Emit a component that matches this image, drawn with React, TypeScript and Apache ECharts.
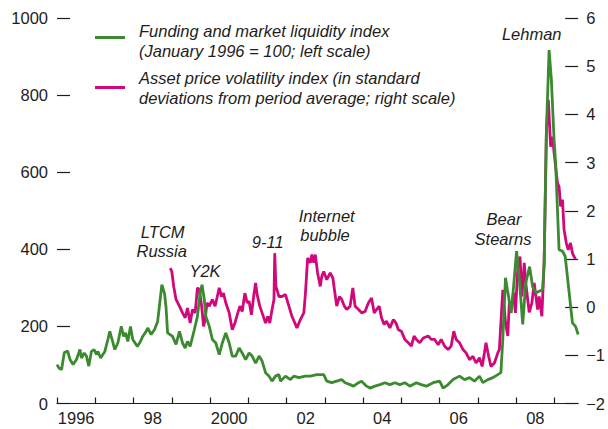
import React, { useEffect, useRef } from "react";
import * as echarts from "echarts";

// Funding and market liquidity index (Jan 1996 = 100; left scale)
const greenDates = [
  1996.0, 1996.05, 1996.12, 1996.19, 1996.28, 1996.34, 1996.42, 1996.51, 1996.6, 1996.64, 1996.71, 1996.77, 1996.83, 1996.9, 1996.97,
  1997.03, 1997.07, 1997.14, 1997.25, 1997.33, 1997.38, 1997.44, 1997.51, 1997.59, 1997.68, 1997.74, 1997.79, 1997.85, 1997.92, 1997.98,
  1998.1, 1998.18, 1998.24, 1998.33, 1998.37, 1998.46, 1998.55, 1998.63, 1998.74, 1998.81, 1998.85, 1998.89,
  1999.02, 1999.11, 1999.2, 1999.28, 1999.35, 1999.41, 1999.48, 1999.59, 1999.67, 1999.74, 1999.79, 1999.85, 1999.89, 1999.98,
  2000.06, 2000.15, 2000.24, 2000.32, 2000.41, 2000.5, 2000.58, 2000.67, 2000.76, 2000.84, 2000.93,
  2001.02, 2001.1, 2001.19, 2001.28, 2001.36, 2001.45, 2001.54, 2001.62, 2001.71, 2001.8, 2001.84, 2001.97,
  2002.1, 2002.19, 2002.32, 2002.49, 2002.62, 2002.79, 2002.97,
  2003.05, 2003.18, 2003.31, 2003.44, 2003.53, 2003.66, 2003.75, 2003.88, 2003.96,
  2004.09, 2004.18, 2004.31, 2004.44, 2004.57, 2004.7, 2004.83, 2004.96,
  2005.09, 2005.22, 2005.39, 2005.52, 2005.65, 2005.83,
  2006.0, 2006.09, 2006.22, 2006.35, 2006.52, 2006.65, 2006.78, 2006.91,
  2007.04, 2007.13, 2007.26, 2007.39, 2007.52, 2007.6, 2007.65, 2007.72, 2007.77, 2007.87, 2007.91,
  2008.01, 2008.09, 2008.17, 2008.25, 2008.35, 2008.43, 2008.51, 2008.69, 2008.73, 2008.79, 2008.86, 2008.92, 2008.99,
  2009.03, 2009.12, 2009.21, 2009.28, 2009.47, 2009.55, 2009.62,
];
const greenValues = [
  101, 92, 88, 132, 136, 114, 101, 114, 140, 118, 131, 123, 97, 135, 140,
  127, 135, 118, 135, 166, 187, 166, 140, 157, 200, 174, 183, 161, 200, 166,
  148, 161, 174, 187, 196, 179, 192, 213, 308, 285, 249, 183,
  174, 153, 187, 157, 144, 161, 148, 192, 226, 287, 308, 269, 226, 200,
  166, 157, 127, 157, 183, 157, 123, 123, 144, 131, 114,
  131, 123, 105, 123, 110, 80, 71, 58, 71, 75, 58, 71,
  62, 71, 67, 71, 71, 75, 75,
  58, 54, 58, 62, 54, 49, 45, 54, 58,
  45, 40, 45, 49, 54, 49, 54, 49,
  54, 45, 54, 49, 45, 54,
  58, 40, 49, 62, 71, 62, 67, 58,
  71, 54, 62, 67, 75, 80, 166, 326, 295, 235, 278,
  395, 313, 205, 313, 355, 303, 287, 295, 364, 710, 917, 839, 684,
  624, 399, 395, 382, 209, 200, 179,
];

// Asset price volatility index (standard deviations; right scale)
const pinkDates = [
  1998.96, 1999.0, 1999.05, 1999.11, 1999.2, 1999.28, 1999.35, 1999.41, 1999.48, 1999.54, 1999.61, 1999.67, 1999.72, 1999.78, 1999.83, 1999.87, 1999.92, 1999.98,
  2000.06, 2000.13, 2000.18, 2000.24, 2000.3, 2000.35, 2000.41, 2000.5, 2000.58, 2000.65, 2000.71, 2000.78, 2000.84, 2000.91, 2000.97,
  2001.02, 2001.08, 2001.15, 2001.19, 2001.23, 2001.3, 2001.36, 2001.45, 2001.51, 2001.56, 2001.62, 2001.67, 2001.69, 2001.72, 2001.75, 2001.8, 2001.88, 2001.97,
  2002.06, 2002.14, 2002.27, 2002.36, 2002.45, 2002.49, 2002.55, 2002.62, 2002.66, 2002.71, 2002.75, 2002.81, 2002.88, 2002.92, 2002.97,
  2003.05, 2003.14, 2003.21, 2003.25, 2003.31, 2003.38, 2003.44, 2003.51, 2003.57, 2003.66, 2003.73, 2003.79, 2003.88, 2003.96,
  2004.05, 2004.14, 2004.22, 2004.29, 2004.35, 2004.42, 2004.48, 2004.55, 2004.61, 2004.7, 2004.79, 2004.86, 2004.92,
  2005.0, 2005.09, 2005.18, 2005.26, 2005.33, 2005.39, 2005.48, 2005.57, 2005.7, 2005.78, 2005.87, 2005.96,
  2006.04, 2006.13, 2006.22, 2006.3, 2006.37, 2006.43, 2006.52, 2006.61, 2006.69, 2006.78, 2006.87, 2006.95,
  2007.04, 2007.11, 2007.17, 2007.21, 2007.28, 2007.34, 2007.43, 2007.52, 2007.56, 2007.6, 2007.65, 2007.72, 2007.78, 2007.82, 2007.86, 2007.93, 2007.98,
  2008.04, 2008.1, 2008.15, 2008.21, 2008.25, 2008.34, 2008.41, 2008.47, 2008.56, 2008.6, 2008.67, 2008.73, 2008.79, 2008.84, 2008.9, 2008.95, 2008.99,
  2009.08, 2009.12, 2009.16, 2009.21, 2009.25, 2009.31, 2009.36, 2009.42, 2009.47, 2009.51, 2009.55,
];
const pinkValues = [
  0.81, 0.74, 0.43, 0.16, 0.02, -0.12, -0.22, -0.02, -0.33, -0.05, -0.12, 0.4, 0.36, 0.02, -0.4, -0.26, 0.09, 0.02,
  0.16, 0.02, 0.19, 0.4, 0.22, 0.29, 0.09, -0.12, -0.47, -0.33, -0.16, 0.02, -0.09, 0.29, 0.09,
  0.12, -0.16, 0.29, 0.5, 0.26, 0.02, -0.12, -0.33, -0.19, -0.33, -0.05, 0.16, 1.12, 0.43, 0.36, 0.22, 0.22, 0.26,
  0.02, -0.19, -0.43, -0.26, -0.12, 0.26, 1.02, 0.92, 1.09, 0.92, 1.09, 0.71, 0.43, 0.64, 0.74,
  0.57, 0.71, 0.6, 0.36, 0.02, 0.22, 0.16, 0.02, -0.05, 0.02, 0.4, 0.02, -0.05, -0.12,
  -0.09, 0.09, 0.19, -0.12, -0.05, 0.02, -0.22, -0.36, -0.29, -0.43, -0.26, -0.33, -0.47,
  -0.5, -0.67, -0.74, -0.81, -0.6, -0.67, -0.74, -0.64, -0.6, -0.67, -0.67, -0.78,
  -0.67, -0.81, -0.88, -0.81, -0.5, -0.67, -0.74, -0.88, -0.95, -1.09, -1.02, -1.16,
  -1.05, -1.23, -0.95, -0.74, -1.02, -1.23, -1.16, -0.95, -0.88, -0.33, 0.36, -0.32, -0.6, 0.09, -0.05, 0.3, -0.12,
  0.78, 1.05, 0.22, 0.92, 0.5, -0.11, 0.09, 0.5, -0.05, 0.22, -0.19, 0.92, 3.68, 4.3, 3.33, 3.54, 3.2,
  2.57, 2.5, 2.09, 2.23, 1.61, 1.33, 1.19, 1.33, 1.12, 1.05, 1.0,
];

const yearTicks = [1996, 1997, 1998, 1999, 2000, 2001, 2002, 2003, 2004, 2005, 2006, 2007, 2008, 2009];
const yearLabelPositions = [1996.5, 1998.5, 2000.5, 2002.5, 2004.5, 2006.5, 2008.5];

const legendLabels = [
  ["Funding and market liquidity index", "(January 1996 = 100; left scale)"],
  ["Asset price volatility index (in standard", "deviations from period average; right scale)"],
];
const eventLabels = ["LTCM", "Russia", "Y2K", "9-11", "Internet", "bubble", "Bear", "Stearns", "Lehman"];

const GREEN = "#3c8a30";
const PINK = "#d0087a";
const INK = "#1d1d1b";
const FONT = '"Liberation Sans", Arial, sans-serif';

export default function App() {
  const ref = useRef<HTMLDivElement>(null);
  useEffect(() => {
    if (!ref.current) return;
    const chart = echarts.init(ref.current, null, { renderer: "svg" });
    const eventPos = [
      [162.7, 232],
      [161.7, 251],
      [205, 271],
      [267.7, 242],
      [326.7, 216],
      [325, 235],
      [504, 219],
      [503, 239],
      [531.7, 34],
    ];
    const graphic: any[] = [];
    legendLabels.forEach((lines, i) => {
      const cy = i === 0 ? 37.5 : 87.5;
      graphic.push({
        type: "line",
        shape: { x1: 95, y1: cy, x2: 125, y2: cy },
        style: { stroke: i === 0 ? GREEN : PINK, lineWidth: 3 },
      });
      lines.forEach((t, j) => {
        graphic.push({
          type: "text",
          x: 139,
          y: (i === 0 ? 30.5 : 78) + j * 20,
          style: { text: t, fill: INK, font: `italic 16.5px ${FONT}`, align: "left", verticalAlign: "middle" },
        });
      });
    });
    eventLabels.forEach((t, i) => {
      graphic.push({
        type: "text",
        x: eventPos[i][0],
        y: eventPos[i][1],
        style: { text: t, fill: INK, font: `italic 16.5px ${FONT}`, align: "center", verticalAlign: "middle" },
      });
    });

    const axisLabelStyle = { color: INK, fontSize: 16.5, fontFamily: FONT };

    chart.setOption({
      animation: false,
      backgroundColor: "#ffffff",
      grid: { left: 57, right: 26, top: 18, bottom: 25.5, containLabel: false },
      xAxis: {
        type: "value",
        min: 1996,
        max: 2009.62,
        axisLine: { show: true, lineStyle: { color: INK, width: 1.2 } },
        axisTick: { show: true, inside: true, length: 6, customValues: yearTicks, lineStyle: { color: INK, width: 1.2 } },
        axisLabel: {
          ...axisLabelStyle,
          margin: 6,
          customValues: yearLabelPositions,
          formatter: (v: number) => {
            const y = Math.floor(v);
            return y === 1996 || y === 2000 ? String(y) : String(y).slice(2);
          },
        },
        splitLine: { show: false },
      },
      yAxis: [
        {
          type: "value",
          min: 0,
          max: 1000,
          interval: 200,
          position: "left",
          axisLine: { show: false },
          axisTick: { show: true, inside: true, length: 13, lineStyle: { color: INK, width: 1.2 } },
          axisLabel: { ...axisLabelStyle, margin: 9, formatter: (v: number) => String(v) },
          splitLine: { show: false },
        },
        {
          type: "value",
          min: -2,
          max: 6,
          interval: 1,
          position: "right",
          axisLine: { show: false },
          axisTick: { show: true, inside: true, length: 13, lineStyle: { color: INK, width: 1.2 } },
          axisLabel: {
            ...axisLabelStyle,
            margin: 8,
            formatter: (v: number) => (v < 0 ? "\u2212" + Math.abs(v) : String(v)),
          },
          splitLine: { show: false },
        },
      ],
      series: [
        {
          type: "line",
          name: "Asset price volatility index",
          yAxisIndex: 1,
          data: pinkDates.map((d, i) => [d, pinkValues[i]]),
          showSymbol: false,
          lineStyle: { color: PINK, width: 2.8 },
          z: 2,
        },
        {
          type: "line",
          name: "Funding and market liquidity index",
          yAxisIndex: 0,
          data: greenDates.map((d, i) => [d, greenValues[i]]),
          showSymbol: false,
          lineStyle: { color: GREEN, width: 2.8 },
          z: 3,
        },
      ],
      graphic,
    });
    return () => chart.dispose();
  }, []);
  return <div ref={ref} style={{ position: "fixed", left: 0, top: 0, width: 608, height: 429, background: "#fff" }} />;
}
